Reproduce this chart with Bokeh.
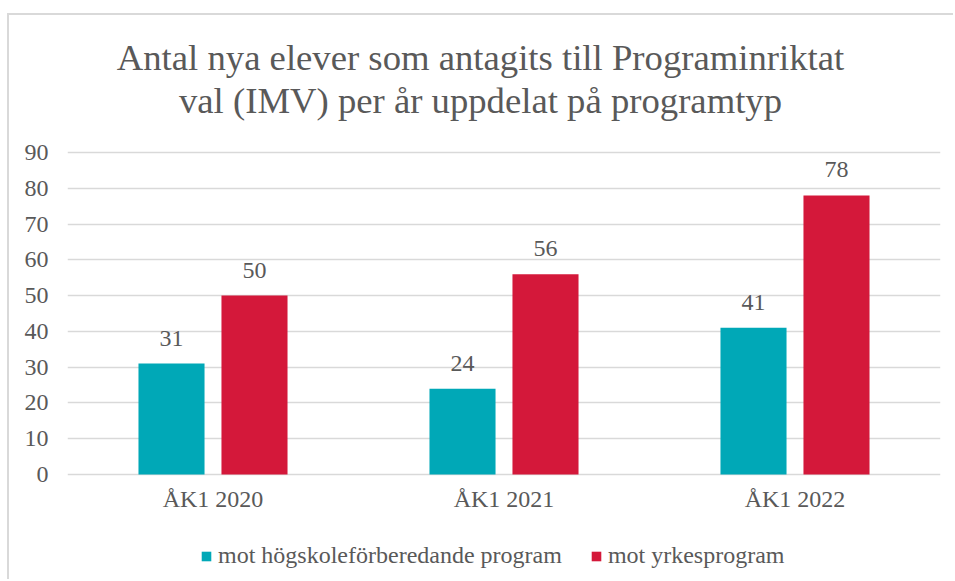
from bokeh.plotting import figure
from bokeh.models import ColumnDataSource, FactorRange, Range1d, Legend, LegendItem, LabelSet, Label
from bokeh.transform import dodge
from bokeh.core.properties import value
from bokeh.embed import file_html
from bokeh.resources import INLINE

categories = ["ÅK1 2020", "ÅK1 2021", "ÅK1 2022"]
hogskole = [31, 24, 41]
yrkes = [50, 56, 78]
series_names = ["mot högskoleförberedande program", "mot yrkesprogram"]
title_lines = ["Antal nya elever som antagits till Programinriktat",
               "val (IMV) per år uppdelat på programtyp"]
y_ticks = [0, 10, 20, 30, 40, 50, 60, 70, 80, 90]

FONT = "Liberation Serif"
TXT = "#595959"
TEAL = "#00A8B7"
RED = "#D4183A"

# layout (pixels in canvas)
W, H = 946, 566
Y0_PX, YTOP_PX = 459, 137          # pixel rows of value 0 and value 90
ppu = (Y0_PX - YTOP_PX) / 90.0
y_lo = -(H - Y0_PX) / ppu
y_hi = 90 + YTOP_PX / ppu

src = ColumnDataSource(dict(cat=categories, a=hogskole, b=yrkes,
                            al=[str(v) for v in hogskole], bl=[str(v) for v in yrkes],
                            zero=[0] * len(categories)))

p = figure(x_range=FactorRange(factors=categories, range_padding=0),
           y_range=Range1d(y_lo, y_hi), width=W, height=H,
           output_backend="svg", toolbar_location=None,
           min_border_left=58, min_border_right=15, min_border_top=0, min_border_bottom=0)
p.styles = {"border-top": "2px solid #D9D9D9", "border-left": "2px solid #D9D9D9",
            "margin-top": "13px", "margin-left": "7px"}
p.outline_line_color = None
p.background_fill_color = "white"
p.border_fill_color = "white"

bw = 0.227
r1 = p.vbar(x=dodge("cat", -0.1426, range=p.x_range), top="a", width=bw, source=src,
            fill_color=TEAL, line_color=None)
r2 = p.vbar(x=dodge("cat", 0.1426, range=p.x_range), top="b", width=bw, source=src,
            fill_color=RED, line_color=None)

for col, off in (("al", -0.1426), ("bl", 0.1426)):
    top = "a" if col == "al" else "b"
    p.add_layout(LabelSet(x=dodge("cat", off, range=p.x_range), y=top, text=col, source=src,
                          text_align="center", text_baseline="bottom", y_offset=18,
                          text_font=value(FONT), text_font_size="24px", text_color=TXT))

# category labels under the bars
p.add_layout(LabelSet(x="cat", y="zero", text="cat", source=src, text_align="center",
                      text_baseline="alphabetic", y_offset=-32,
                      text_font=value(FONT), text_font_size="24px", text_color=TXT))

p.xaxis.visible = False
p.xgrid.grid_line_color = None
p.ygrid.ticker = y_ticks
p.ygrid.grid_line_color = "#D9D9D9"
p.ygrid.grid_line_width = 1.5
p.yaxis.ticker = y_ticks
p.yaxis.axis_line_color = None
p.yaxis.major_tick_line_color = None
p.yaxis.minor_tick_line_color = None
p.yaxis.major_tick_out = 0
p.yaxis.major_label_standoff = 19
p.yaxis.major_label_text_font = FONT
p.yaxis.major_label_text_font_size = "24px"
p.yaxis.major_label_text_color = TXT

legend = Legend(items=[LegendItem(label=series_names[0], renderers=[r1]),
                       LegendItem(label=series_names[1], renderers=[r2])],
                orientation="horizontal", location=(133, 12),
                glyph_width=12, glyph_height=12, label_standoff=6, spacing=28,
                label_text_font=FONT, label_text_font_size="24px", label_text_color=TXT,
                border_line_color=None, background_fill_alpha=0, padding=0, margin=0)
p.add_layout(legend, "center")

for t, yb in zip(title_lines, (524, 481)):
    p.add_layout(Label(x=413, y=yb, x_units="screen", y_units="screen", text=t,
                       text_align="center", text_baseline="alphabetic",
                       text_font=FONT, text_font_size="36.7px", text_color=TXT))

open("out.html", "w").write(file_html(p, INLINE))
